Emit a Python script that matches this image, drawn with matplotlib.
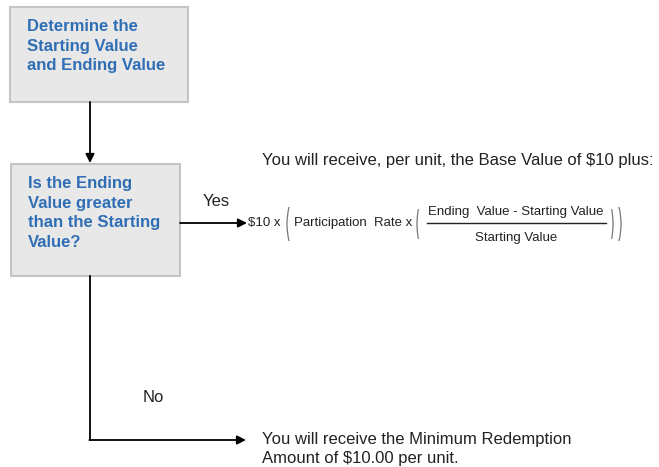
import matplotlib.pyplot as plt
from matplotlib.patches import Rectangle, Arc

plt.rcParams["font.family"] = ["Liberation Sans", "DejaVu Sans"]

BLUE = "#2F6EB5"
DARK = "#222222"

# flowchart texts
box_texts = ["Determine the\nStarting Value\nand Ending Value",
             "Is the Ending\nValue greater\nthan the Starting\nValue?"]
branch_labels = ["Yes", "No"]
yes_header = "You will receive, per unit, the Base Value of $10 plus:"
formula_parts = ["$10 x", "Participation  Rate x", "Ending  Value - Starting Value", "Starting Value"]
no_result = "You will receive the Minimum Redemption\nAmount of $10.00 per unit."

fig = plt.figure(figsize=(6.59, 4.67), dpi=100)
ax = fig.add_axes([0, 0, 1, 1])
ax.set_xlim(0, 659)
ax.set_ylim(467, 0)
ax.axis("off")

# boxes
for (x0, y0, x1, y1), txt in zip([(10, 7, 188, 102), (11, 164, 180, 276)], box_texts):
    ax.add_patch(Rectangle((x0, y0), x1 - x0, y1 - y0, facecolor="#E8E8E8",
                           edgecolor="#C4C4C4", linewidth=1.5))
    ax.text(x0 + 17, y0 + 12, txt, color=BLUE, fontsize=12, fontweight="bold",
            va="top", ha="left", linespacing=1.38)

arrow = dict(arrowstyle="-|>", color="black", lw=1.3, mutation_scale=13,
             shrinkA=0, shrinkB=0)

# box1 -> box2
ax.annotate("", xy=(90, 163), xytext=(90, 102), arrowprops=arrow)

# yes branch
ax.annotate("", xy=(247, 223), xytext=(180, 223), arrowprops=arrow)
ax.text(203, 202, branch_labels[0], fontsize=12, color=DARK, va="center", ha="left")

# no branch
ax.plot([90, 90], [276, 440], color="black", lw=1.3)
ax.annotate("", xy=(246, 440), xytext=(89.35, 440), arrowprops=arrow)
ax.text(143, 398, branch_labels[1], fontsize=12, color=DARK, va="center", ha="left")

# header text
ax.text(262, 160, yes_header, fontsize=12, color=DARK, va="center", ha="left")

# formula
ax.text(248, 223, formula_parts[0], fontsize=9.5, color=DARK, va="center", ha="left")
ax.text(294, 223, formula_parts[1], fontsize=9.5, color=DARK, va="center", ha="left")
ax.text(516, 212, formula_parts[2], fontsize=9.5, color=DARK, va="center", ha="center")
ax.text(516, 238, formula_parts[3], fontsize=9.5, color=DARK, va="center", ha="center")
ax.plot([427, 606], [223, 223], color=DARK, lw=1.0)

pc = "#777777"
# outer parentheses
ax.add_patch(Arc((299, 224), 24, 60, theta1=120, theta2=240, color=pc, lw=0.9))
ax.add_patch(Arc((609, 224), 24, 60, theta1=-60, theta2=60, color=pc, lw=0.9))
# inner parentheses
ax.add_patch(Arc((427, 224), 20, 58, theta1=120, theta2=240, color=pc, lw=0.9))
ax.add_patch(Arc((603, 224), 20, 58, theta1=-60, theta2=60, color=pc, lw=0.9))

ax.text(262, 449, no_result, fontsize=12, color=DARK, va="center", ha="left",
        linespacing=1.3)

fig.savefig("out.png", dpi=100)
